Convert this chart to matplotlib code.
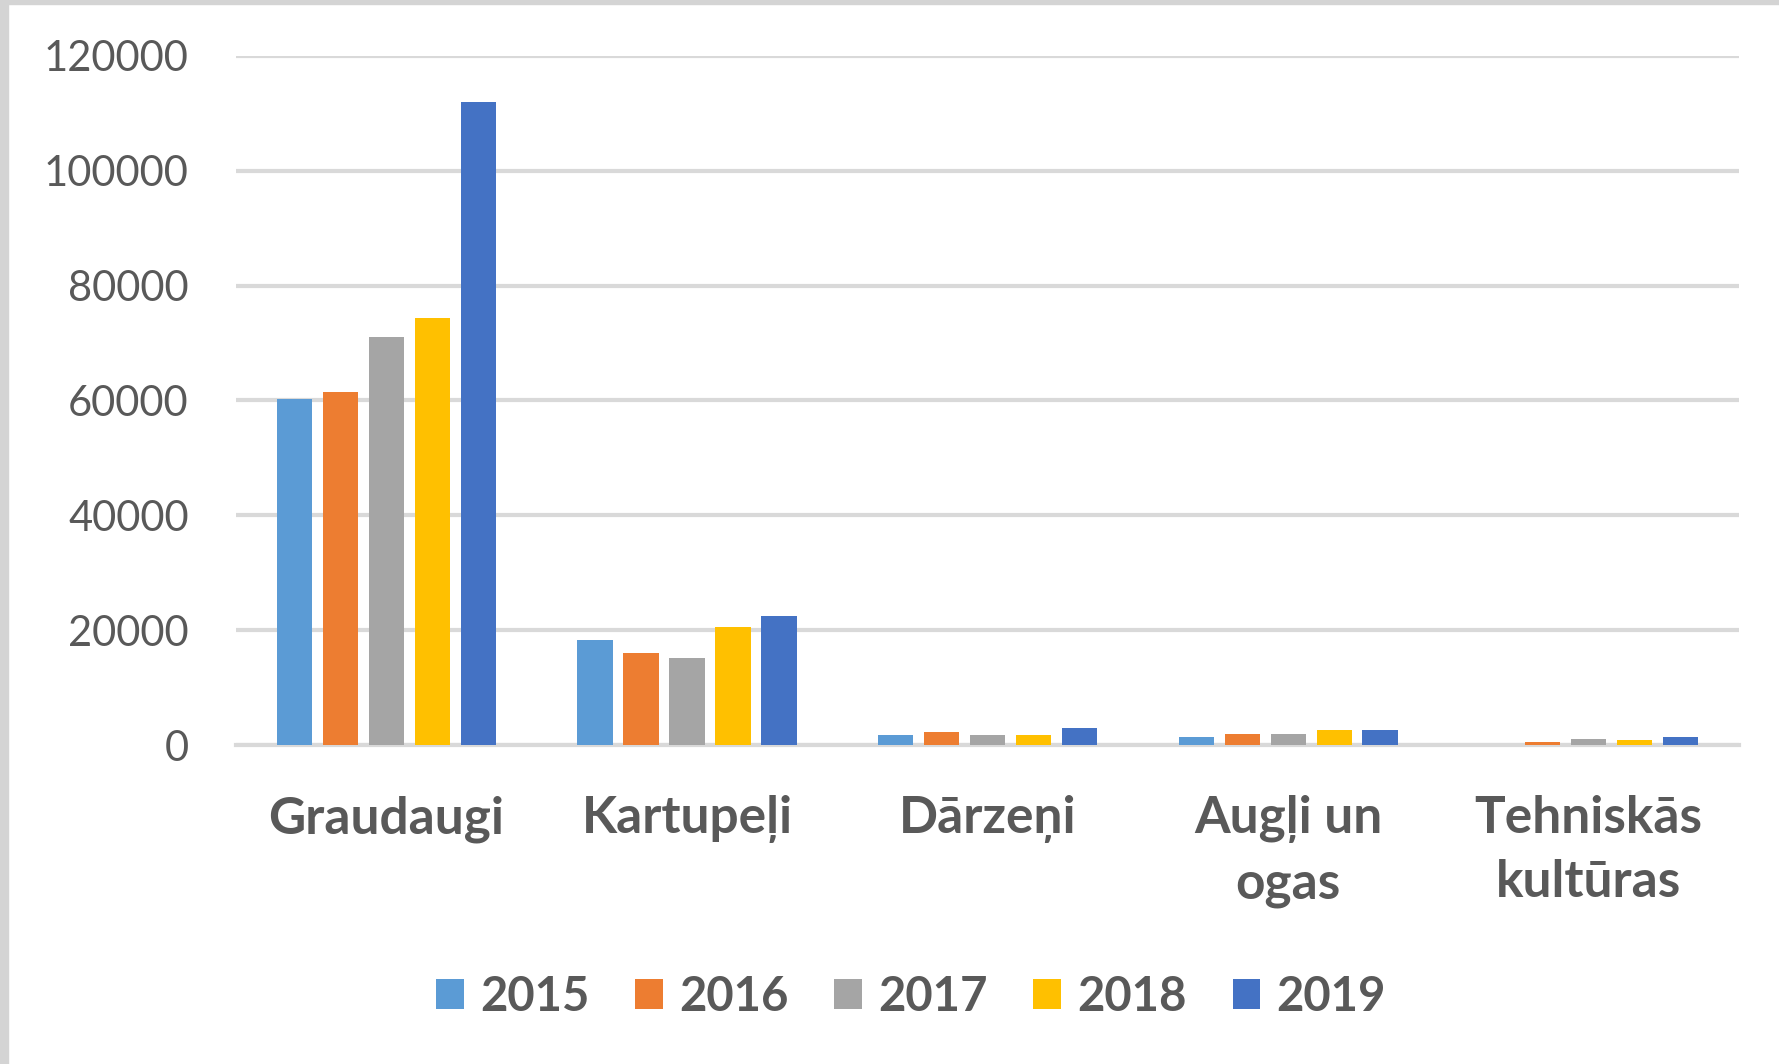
import numpy as np
import matplotlib
matplotlib.use("Agg")
import matplotlib.pyplot as plt
from matplotlib.patches import Rectangle

plt.rcParams['font.family'] = ['Lato', 'DejaVu Sans']

# data
categories = ["Graudaugi", "Kartupeļi", "Dārzeņi", "Augļi un\nogas", "Tehniskās\nkultūras"]
years = ["2015", "2016", "2017", "2018", "2019"]
v2015 = [60200, 18300, 1800, 1350, 0]
v2016 = [61500, 16000, 2200, 1850, 500]
v2017 = [71000, 15200, 1800, 1850, 1000]
v2018 = [74400, 20500, 1800, 2600, 950]
v2019 = [112000, 22500, 3000, 2600, 1350]
series = [v2015, v2016, v2017, v2018, v2019]
colors = ["#5B9BD5", "#ED7D31", "#A5A5A5", "#FFC000", "#4472C4"]
yticks = [0, 20000, 40000, 60000, 80000, 100000, 120000]

txt_col = "#595959"
grid_col = "#D9D9D9"

fig = plt.figure(figsize=(17.79, 10.64), dpi=100)
ax = fig.add_axes([0.1327, 0.2998, 0.8448, 0.6476])

x = np.arange(len(categories))
pitch = 0.153
width = 0.117
for i, (vals, col, yr) in enumerate(zip(series, colors, years)):
    ax.bar(x + (i - 2) * pitch, vals, width, color=col, label=yr, zorder=3)

ax.set_xlim(-0.5, len(categories) - 0.5)
ax.set_ylim(0, 120000)
ax.set_yticks(yticks)
ax.set_yticklabels([str(t) for t in yticks], fontsize=30)
ax.set_xticks(x)
ax.set_xticklabels(categories, fontweight="bold", fontsize=37, linespacing=1.45)

ax.yaxis.grid(True, color=grid_col, linewidth=3, zorder=0)
ax.set_axisbelow(True)
for s in ["top", "right", "left"]:
    ax.spines[s].set_visible(False)
ax.spines["bottom"].set_color(grid_col)
ax.spines["bottom"].set_linewidth(3)
ax.tick_params(axis="both", length=0, colors=txt_col)
ax.tick_params(axis="y", pad=34)
ax.tick_params(axis="x", pad=36)

leg = fig.legend(loc="center", bbox_to_anchor=(0.512, 0.063), ncol=5, frameon=False,
                 prop={"weight": "bold", "size": 34}, handlelength=0.59, handleheight=0.59,
                 handletextpad=0.34, columnspacing=0.97, labelcolor=txt_col)

# grey window edge on the left and top
fig.patches.append(Rectangle((0, 0), 8 / 1779, 1, transform=fig.transFigure, color="#D4D4D4"))
fig.patches.append(Rectangle((0, 1 - 4 / 1064), 1, 4 / 1064, transform=fig.transFigure, color="#D4D4D4"))

fig.savefig("out.png", dpi=100)
